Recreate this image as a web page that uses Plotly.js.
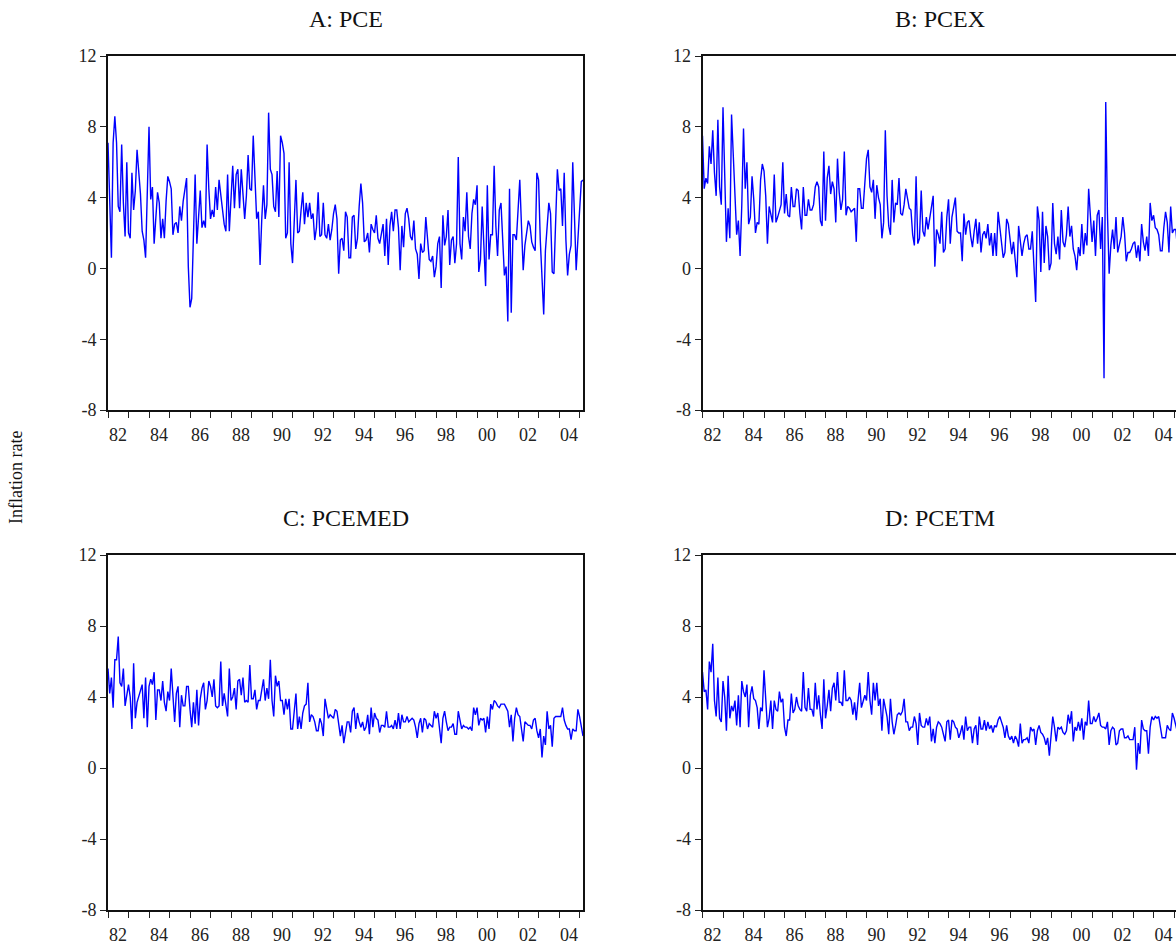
<!DOCTYPE html>
<html>
<head>
<meta charset="utf-8">
<script src="https://cdn.plot.ly/plotly-3.0.1.min.js"></script>
<style>
html, body { margin: 0; padding: 0; overflow: hidden; background: #fff; }
#chart { width: 1180px; height: 944px; }
</style>
</head>
<body>
<div id="chart"></div>
<script>
// Monthly inflation rates (annualised, %), starting January 1982
const startYear = 1982;

const pce = [
  7.1,3.5,0.6,7.1,8.6,7.1,3.5,3.2,7.0,3.7,
  1.8,6.0,2.0,1.7,5.4,3.3,4.4,6.7,5.4,4.2,
  2.1,1.6,0.6,4.8,8.0,3.9,4.6,1.4,2.8,4.3,
  3.7,1.7,2.8,1.7,3.8,5.2,4.9,4.5,1.9,2.5,
  2.6,2.0,3.5,2.7,3.8,4.5,5.1,0.1,-2.2,-1.7,
  1.8,5.3,1.4,2.8,4.4,2.3,2.7,2.3,7.0,4.5,
  2.8,3.3,2.9,4.6,3.3,5.0,4.1,3.1,2.5,2.1,
  5.3,2.1,3.9,5.8,3.4,5.3,5.6,3.4,5.6,3.9,
  2.8,4.1,6.4,4.5,4.4,7.5,4.6,2.8,3.2,0.2,
  2.8,4.7,2.8,3.6,8.8,5.6,5.3,3.5,3.2,5.5,
  2.9,7.5,7.1,6.5,1.7,2.0,6.0,1.4,0.3,2.6,
  5.0,2.0,2.1,3.3,4.3,2.5,3.7,2.9,3.7,2.8,
  3.1,1.6,2.3,4.3,1.8,1.9,3.7,1.9,1.7,2.5,
  1.6,2.2,3.1,3.6,2.8,-0.3,1.6,1.7,1.0,3.2,
  2.9,0.6,0.6,2.9,3.0,1.1,1.7,3.5,4.8,3.7,
  1.5,1.6,2.0,0.9,2.5,2.2,2.0,3.0,1.7,1.4,
  2.0,2.5,0.7,2.8,0.2,2.4,3.2,2.1,3.3,3.3,
  2.3,-0.1,2.4,1.2,3.1,3.4,2.8,1.8,1.6,2.7,
  1.1,0.8,-0.6,1.4,0.9,1.0,2.9,1.4,0.5,0.4,
  0.7,-0.5,0.1,1.4,1.8,-1.1,3.0,1.3,1.8,3.3,
  0.2,1.6,1.8,0.3,1.4,6.3,1.4,0.5,2.9,2.1,
  4.3,1.8,1.1,3.1,3.9,3.6,4.7,-0.2,0.5,3.5,
  1.5,-1.0,4.7,0.5,1.9,1.9,5.8,2.4,0.7,3.3,
  3.7,1.4,-0.4,0.1,-3.0,4.5,-2.5,1.9,1.9,1.6,
  3.5,5.0,2.4,-0.1,1.3,1.9,2.7,2.4,1.5,1.2,
  1.0,5.4,5.0,1.6,-0.2,-2.6,1.0,2.7,3.7,3.1,
  -0.2,-0.3,2.7,5.6,4.4,4.5,2.4,5.4,1.6,-0.4,
  0.8,1.3,6.0,2.7,-0.1,1.6,3.1,4.9,5.0
];

const pcex = [
  7.5,4.5,5.1,4.8,6.9,5.9,7.8,5.4,4.1,8.4,
  4.6,3.6,9.1,4.5,1.5,3.4,1.7,8.7,6.4,4.5,
  1.9,2.7,0.7,3.6,7.9,4.5,6.0,2.5,2.9,5.2,
  3.9,2.0,2.6,2.5,5.0,5.9,5.5,4.1,1.4,3.5,
  3.0,2.6,5.3,2.6,2.9,3.3,3.6,6.0,3.1,4.2,
  3.0,2.9,4.6,3.5,3.5,4.5,4.4,3.1,2.2,4.6,
  3.0,3.0,3.9,3.3,3.3,3.6,4.6,4.9,4.6,2.7,
  2.4,6.6,2.7,5.1,5.8,4.2,4.9,4.5,2.6,6.2,
  4.3,3.3,3.9,6.6,3.0,3.5,3.4,3.2,3.3,3.4,
  1.5,4.5,4.5,3.4,3.4,5.1,6.2,6.7,4.6,4.3,
  5.0,2.8,4.7,4.0,3.6,1.7,2.6,7.8,4.1,2.4,
  1.9,5.0,2.6,3.7,3.6,5.1,3.1,3.0,3.6,4.5,
  3.9,3.4,3.3,1.9,1.3,5.2,1.4,1.7,4.4,2.1,
  1.8,2.9,2.2,2.9,3.7,4.1,0.1,2.2,1.9,1.4,
  3.2,0.9,1.1,2.9,3.9,1.4,2.9,3.5,4.0,2.1,
  2.0,2.0,0.4,3.1,1.9,2.6,2.7,1.8,1.2,2.1,
  2.8,1.4,2.6,0.9,1.9,2.1,1.7,2.5,1.3,2.0,
  0.7,2.0,0.7,3.2,2.4,1.4,0.6,0.9,2.8,2.5,
  1.8,0.8,1.5,0.5,-0.5,2.4,1.4,0.7,1.4,1.8,
  1.9,1.1,1.1,2.1,0.1,-1.9,3.5,2.7,-0.2,3.2,
  0.3,2.4,1.8,-0.1,0.3,3.7,1.4,0.8,1.8,0.5,
  3.3,1.5,1.2,1.9,3.5,1.8,2.4,1.1,0.7,-0.1,
  1.2,0.7,2.5,0.8,2.0,1.3,4.5,2.6,1.5,2.7,
  0.7,3.0,3.3,1.1,2.9,-6.2,9.4,3.1,-0.3,1.3,
  2.2,1.1,2.9,0.9,1.4,1.8,2.9,2.0,0.4,0.9,
  0.9,1.1,1.4,1.5,0.6,1.3,0.4,2.5,1.5,1.0,
  1.8,0.7,3.7,2.7,3.0,2.3,2.2,1.9,1.0,1.0,
  2.3,3.2,2.6,0.9,3.5,2.0,2.2,2.2,1.1
];

const pcemed = [
  5.6,4.2,5.1,3.4,6.1,6.1,7.4,4.8,4.6,5.6,
  3.5,4.0,4.7,4.0,2.2,5.9,2.8,3.7,4.0,4.4,
  4.7,2.8,5.1,2.3,4.6,5.0,4.7,5.4,2.7,4.4,
  4.4,3.8,4.9,3.7,3.2,4.3,3.8,5.6,3.7,2.6,
  4.2,4.6,2.3,4.1,3.5,3.5,4.6,4.6,3.3,2.3,
  3.7,2.5,4.4,2.4,3.9,4.5,4.8,3.3,3.8,4.9,
  4.6,4.0,5.0,3.5,3.4,3.5,6.0,3.5,4.2,3.5,
  2.9,5.6,3.8,4.0,4.5,3.3,4.9,5.0,4.1,5.1,
  3.7,3.8,3.7,5.8,3.9,3.9,4.4,3.3,3.8,3.8,
  4.4,5.0,3.8,4.5,3.9,6.1,3.8,2.9,5.2,4.6,
  4.9,3.8,3.8,3.0,3.9,3.3,3.9,2.2,2.2,3.4,
  4.2,2.2,2.9,2.2,3.1,3.5,3.6,4.8,2.6,3.0,
  2.9,2.6,2.1,2.1,2.8,2.5,1.8,3.9,3.3,2.8,
  3.0,2.9,2.8,3.3,3.2,2.5,1.8,2.4,1.4,2.0,
  2.6,2.6,2.0,3.2,3.4,2.2,3.1,2.6,2.3,2.6,
  2.1,2.3,3.0,1.9,3.4,2.3,3.1,2.8,2.7,2.0,
  2.4,2.4,2.3,3.2,2.3,2.3,2.4,2.2,2.7,2.2,
  3.1,2.2,3.0,2.6,2.6,2.9,2.6,2.7,2.8,2.7,
  2.3,1.7,2.5,2.8,2.0,2.8,2.7,2.2,2.5,2.4,
  2.3,3.2,2.8,3.1,2.2,1.4,2.8,3.2,2.6,2.1,
  2.3,2.3,2.5,1.9,1.9,3.2,2.7,2.2,2.4,2.3,
  2.3,2.2,2.3,2.1,3.4,3.0,3.4,2.4,2.8,2.7,
  2.8,2.0,2.9,2.2,3.6,3.3,3.8,3.7,3.5,3.4,
  3.6,3.6,3.6,3.4,3.2,2.3,3.0,1.5,2.8,3.4,
  3.0,2.9,2.3,1.5,2.6,2.5,2.4,2.4,2.2,2.7,
  2.8,2.1,1.7,2.2,0.6,1.8,1.3,3.2,2.2,2.4,
  1.2,2.8,2.9,2.9,2.9,2.9,3.4,2.7,2.4,2.2,
  2.2,1.6,2.2,2.1,2.1,3.3,2.9,2.4,1.8
];

const pcetm = [
  5.4,4.3,4.4,3.3,6.0,5.4,7.0,3.8,2.9,5.1,
  2.8,2.6,4.9,4.0,2.1,5.2,2.8,3.5,3.2,3.8,
  2.4,4.1,2.3,4.9,4.3,4.0,4.7,2.3,4.1,4.6,
  3.9,3.8,3.4,2.2,3.4,3.2,5.5,3.6,2.3,2.8,
  3.8,2.2,3.8,3.3,3.2,4.3,3.7,3.9,2.3,1.8,
  2.7,2.7,4.2,3.1,3.3,4.0,3.5,3.3,3.2,5.4,
  3.4,3.2,4.5,3.3,3.3,2.9,4.8,3.3,4.1,3.0,
  2.2,5.0,2.8,3.5,4.4,3.2,4.5,4.8,3.8,5.4,
  3.7,3.7,3.5,5.5,3.8,3.8,4.0,3.8,3.0,3.7,
  2.7,3.8,4.8,3.4,3.8,4.1,3.8,5.4,3.8,3.0,
  4.8,3.8,4.8,3.5,3.9,2.1,3.9,3.3,2.9,1.9,
  3.9,2.6,1.9,2.4,3.0,3.1,3.0,3.2,3.9,2.6,
  2.6,2.1,2.3,2.3,2.9,2.5,1.3,3.1,2.4,2.3,
  2.3,2.8,2.4,2.9,1.5,2.2,1.4,2.3,2.6,2.5,
  2.3,1.9,1.5,2.6,2.7,1.6,2.7,2.6,2.3,2.2,
  1.7,2.0,2.4,1.6,2.9,2.1,2.3,2.3,1.4,2.2,
  2.4,1.3,2.9,2.2,2.2,2.7,2.1,2.6,2.2,2.4,
  2.0,2.4,2.3,2.7,2.9,2.6,2.3,1.7,2.4,1.8,
  1.6,1.8,1.4,1.8,1.6,1.2,2.5,1.4,1.6,1.6,
  1.7,1.4,2.3,2.1,2.2,1.3,2.1,2.4,2.0,1.9,
  1.7,1.3,1.7,0.7,1.8,2.9,2.3,1.5,2.3,2.2,
  2.3,2.0,1.9,2.1,3.0,2.5,3.2,1.5,2.3,2.1,
  2.6,2.1,2.8,1.6,2.6,2.4,3.8,2.5,2.5,2.9,
  2.6,2.8,3.1,2.4,2.3,2.3,2.2,2.6,1.3,2.1,
  2.3,2.2,1.3,1.4,2.1,2.2,2.2,1.7,1.7,1.8,
  1.6,1.6,1.6,2.3,-0.1,1.4,0.8,2.7,2.2,2.1,
  2.1,0.8,2.3,2.9,2.7,2.9,2.8,2.9,2.2,1.7,
  1.7,1.7,2.4,2.2,2.1,3.1,2.8,2.3,2.0
];

const panelTitles = ["A: PCE", "B: PCEX", "C: PCEMED", "D: PCETM"];
const yTickVals = [-8, -4, 0, 4, 8, 12];
const yTickText = ["-8", "-4", "0", "4", "8", "12"];
const tickYears = [];
const tickLabels = [];
for (let yr = 1982; yr <= 2005; yr++) {
  tickYears.push(yr);
  tickLabels.push(yr % 2 === 0 && yr < 2005 ? String(yr).slice(2) : "");
}

const W = 1180, H = 944;
const lineColor = "#0000ff";
const series = [pce, pcex, pcemed, pcetm];

function monthX(arr) {
  return arr.map((_, i) => startYear + i / 12);
}

const traces = series.map((s, k) => ({
  type: "scatter",
  mode: "lines",
  x: monthX(s),
  y: s,
  xaxis: k === 0 ? "x" : "x" + (k + 1),
  yaxis: k === 0 ? "y" : "y" + (k + 1),
  line: { color: lineColor, width: 1.4 },
  hoverinfo: "x+y"
}));

const xEnd = startYear + (pce.length - 1) / 12;
const fontFam = "'Liberation Serif', 'Times New Roman', Times, serif";

function xAx(domain, anchor) {
  return {
    domain: domain, anchor: anchor,
    range: [startYear, xEnd],
    tickmode: "array", tickvals: tickYears, ticktext: tickLabels,
    ticks: "outside", ticklen: 6, tickwidth: 1, tickcolor: "#222",
    ticklabelshift: 10, ticklabelstandoff: 1,
    showline: true, linewidth: 2, linecolor: "#111", mirror: true,
    showgrid: false, zeroline: false,
    tickfont: { family: fontFam, size: 18, color: "#222" }
  };
}
function yAx(domain, anchor) {
  return {
    domain: domain, anchor: anchor,
    range: [-8, 12],
    tickmode: "array", tickvals: yTickVals, ticktext: yTickText,
    ticks: "outside", ticklen: 6, tickwidth: 1, tickcolor: "#222",
    showline: true, linewidth: 2, linecolor: "#111", mirror: true,
    showgrid: false, zeroline: false,
    tickfont: { family: fontFam, size: 18, color: "#222" }
  };
}

const xLeft = [108 / W, 583 / W];
const xRight = [702.5 / W, 1177.5 / W];
const yTop = [1 - 410 / H, 1 - 56 / H];
const yBot = [1 - 910 / H, 1 - 555 / H];

const titlePos = [
  [345.5, 19], [940, 19], [345.5, 518], [940, 518]
];

const annotations = panelTitles.map((t, k) => ({
  text: t, xref: "paper", yref: "paper",
  x: titlePos[k][0] / W, y: 1 - titlePos[k][1] / H,
  xanchor: "center", yanchor: "middle", showarrow: false,
  font: { family: fontFam, size: 24, color: "#111" }
}));
annotations.push({
  text: "Inflation rate", xref: "paper", yref: "paper",
  x: 16 / W, y: 1 - 478 / H, xanchor: "center", yanchor: "middle",
  textangle: -90, showarrow: false,
  font: { family: fontFam, size: 18, color: "#111" }
});

const layout = {
  width: W, height: H,
  margin: { l: 0, r: 0, t: 0, b: 0 },
  paper_bgcolor: "#fff", plot_bgcolor: "#fff",
  showlegend: false,
  font: { family: fontFam, color: "#222" },
  xaxis: xAx(xLeft, "y"), yaxis: yAx(yTop, "x"),
  xaxis2: xAx(xRight, "y2"), yaxis2: yAx(yTop, "x2"),
  xaxis3: xAx(xLeft, "y3"), yaxis3: yAx(yBot, "x3"),
  xaxis4: xAx(xRight, "y4"), yaxis4: yAx(yBot, "x4"),
  annotations: annotations
};

Plotly.newPlot("chart", traces, layout, { displayModeBar: false, staticPlot: true });
</script>
</body>
</html>
